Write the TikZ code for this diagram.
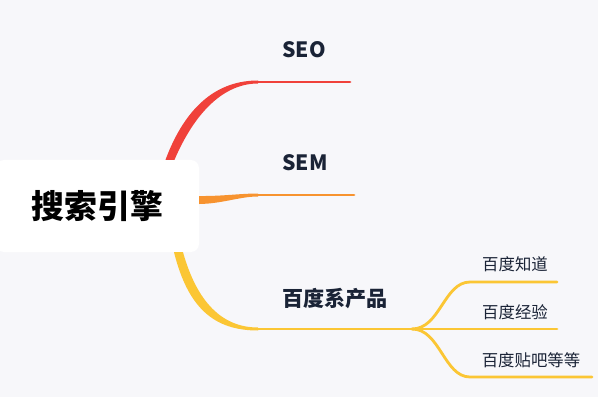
\documentclass[tikz,border=0pt]{standalone}
\usepackage{fontspec}
\setmainfont{Noto Sans CJK SC}
\usetikzlibrary{calc}
\definecolor{MapBg}{HTML}{F7F7FA}
\definecolor{MapRed}{HTML}{F0413A}
\definecolor{MapOrange}{HTML}{F7932F}
\definecolor{MapYellow}{HTML}{FBC634}
\definecolor{MapText}{HTML}{1A2336}

\begin{document}
\begin{tikzpicture}[x=0.03cm,y=-0.03cm,line cap=round,
  topic/.style={text=MapText,font=\fontsize{18}{22}\selectfont\bfseries,inner sep=0pt},
  subtopic/.style={text=MapText,font=\fontsize{14}{17}\selectfont,inner sep=0pt},
  twig/.style={line width=2.4pt}]
  \clip (0,0) rectangle (600,400);
  \fill[white] (0,0) rectangle (600,400); \fill[MapBg] (0,0) rectangle (598,397);
  \node[fill=white,rounded corners=7pt,minimum width=6.09cm,minimum height=2.76cm,inner sep=0pt,
    font=\fontsize{28}{32}\selectfont\bfseries] (root) at (97.5,206) {搜索引擎};
  \coordinate (seoR) at ($(root.north)+(72.5,0)$); \coordinate (seoA) at (258,82); \coordinate (seoB) at (350,82);
  \coordinate (semR) at ($(root.east)+(0,-6)$); \coordinate (semA) at (258,195); \coordinate (semB) at (354,195);
  \coordinate (bdR) at ($(root.south)+(81,0)$); \coordinate (bdA) at (258,329); \coordinate (bdB) at (412,329);
  \coordinate (zdA) at (470,282); \coordinate (zdB) at (557,282); \coordinate (jyB) at (557,329);
  \coordinate (tbA) at (470,377); \coordinate (tbB) at (592,377);
  % tapered main branches
  \fill[MapRed] ($(seoR)+(-4.5,0)$) .. controls (186,105) and (218,80.5) .. ($(seoA)+(0,-1.5)$) -- ($(seoA)+(0,1.5)$) .. controls (224,83.5) and (195,112) .. ($(seoR)+(4.5,0)$) -- cycle;
  \fill[MapOrange] ($(semR)+(0,-4)$) .. controls (222,196.3) and (240,193.5) .. ($(semA)+(0,-1.5)$) -- ($(semA)+(0,1.5)$) .. controls (240,196.5) and (222,203.7) .. ($(semR)+(0,4)$) -- cycle;
  \fill[MapYellow] ($(bdR)+(-4.5,0)$) .. controls (188,308) and (214,330.5) .. ($(bdA)+(0,1.5)$) -- ($(bdA)+(0,-1.5)$) .. controls (222,327.5) and (197,302) .. ($(bdR)+(4.5,0)$) -- cycle;
  \draw[MapRed,twig] (seoA) -- (seoB); \draw[MapOrange,twig] (semA) -- (semB); \draw[MapYellow,twig] (bdA) -- (bdB);
  % sub branches
  \draw[MapYellow,twig] (bdB) .. controls (440,329) and (444,282) .. (zdA) -- (zdB);
  \draw[MapYellow,twig] (bdB) -- (jyB);
  \draw[MapYellow,twig] (bdB) .. controls (440,329) and (444,377) .. (tbA) -- (tbB);
  \node[topic] (seo) at (304,50) {SEO}; \node[topic] (sem) at (305,163) {SEM}; \node[topic] (bd) at (335,299) {百度系产品};
  \node[subtopic] (zd) at (515,264) {百度知道}; \node[subtopic] (jy) at (515,312) {百度经验}; \node[subtopic] (tb) at (531,360) {百度贴吧等等};
\end{tikzpicture}
\end{document}
